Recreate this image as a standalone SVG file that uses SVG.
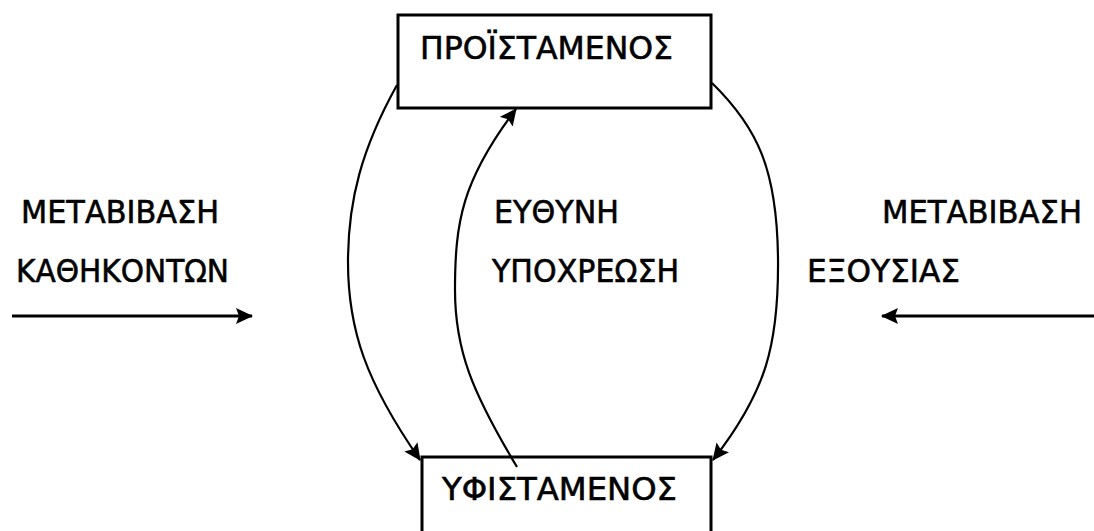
<svg xmlns="http://www.w3.org/2000/svg" width="1094" height="531" viewBox="0 0 1094 531">
  <style>
    .box { fill: #ffffff; stroke: #000000; stroke-width: 3; }
    .lbl { font-family: "DejaVu Sans", Verdana, sans-serif; font-size: 32px; fill: #000000; stroke: #000000; stroke-width: 0.6; }
    .edge { fill: none; stroke: #000000; stroke-width: 2.2; }
    .flow { fill: none; stroke: #000000; stroke-width: 2.8; }
  </style>
  <defs>
    <marker id="head" viewBox="0 0 17 16" refX="16" refY="8" markerWidth="17" markerHeight="16" markerUnits="userSpaceOnUse" orient="auto">
      <path d="M0,0 L17,8 L0,16 L3,8 Z" fill="#000000"/>
    </marker>
  </defs>

  <rect width="1094" height="531" fill="#ffffff"/>

  <!-- superior -->
  <g id="node-proistamenos">
    <rect class="box" x="398" y="15" width="313" height="93"/>
    <text class="lbl" x="420" y="59" textLength="253" lengthAdjust="spacingAndGlyphs">ΠΡΟΪΣΤΑΜΕΝΟΣ</text>
  </g>

  <!-- subordinate -->
  <g id="node-yfistamenos">
    <rect class="box" x="422" y="457" width="289" height="100"/>
    <text class="lbl" x="442" y="500" textLength="235" lengthAdjust="spacingAndGlyphs">ΥΦΙΣΤΑΜΕΝΟΣ</text>
  </g>

  <!-- side and centre labels -->
  <g id="label-left">
    <text class="lbl" x="21" y="223" textLength="198" lengthAdjust="spacingAndGlyphs">ΜΕΤΑΒΙΒΑΣΗ</text>
    <text class="lbl" x="16" y="282" textLength="213" lengthAdjust="spacingAndGlyphs">ΚΑΘΗΚΟΝΤΩΝ</text>
  </g>
  <g id="label-centre">
    <text class="lbl" x="494" y="223" textLength="125" lengthAdjust="spacingAndGlyphs">ΕΥΘΥΝΗ</text>
    <text class="lbl" x="492" y="282" textLength="187" lengthAdjust="spacingAndGlyphs">ΥΠΟΧΡΕΩΣΗ</text>
  </g>
  <g id="label-right">
    <text class="lbl" x="882" y="223" textLength="200" lengthAdjust="spacingAndGlyphs">ΜΕΤΑΒΙΒΑΣΗ</text>
    <text class="lbl" x="807" y="282" textLength="153" lengthAdjust="spacingAndGlyphs">ΕΞΟΥΣΙΑΣ</text>
  </g>

  <!-- connectors -->
  <g id="connectors">
    <path class="edge" d="M397,85 C362,148 348,200 348,262 C348,330 366,382 420,460" marker-end="url(#head)"/>
    <path class="edge" d="M517,467 C472,392 455,350 455,290 C455,222 462,180 516,109" marker-end="url(#head)"/>
    <path class="edge" d="M712,83 C758,128 777,170 778,258 C779,345 766,392 713,460" marker-end="url(#head)"/>
    <path class="flow" d="M12,316 L252,316" marker-end="url(#head)"/>
    <path class="flow" d="M1094,316 L882,316" marker-end="url(#head)"/>
  </g>
</svg>
